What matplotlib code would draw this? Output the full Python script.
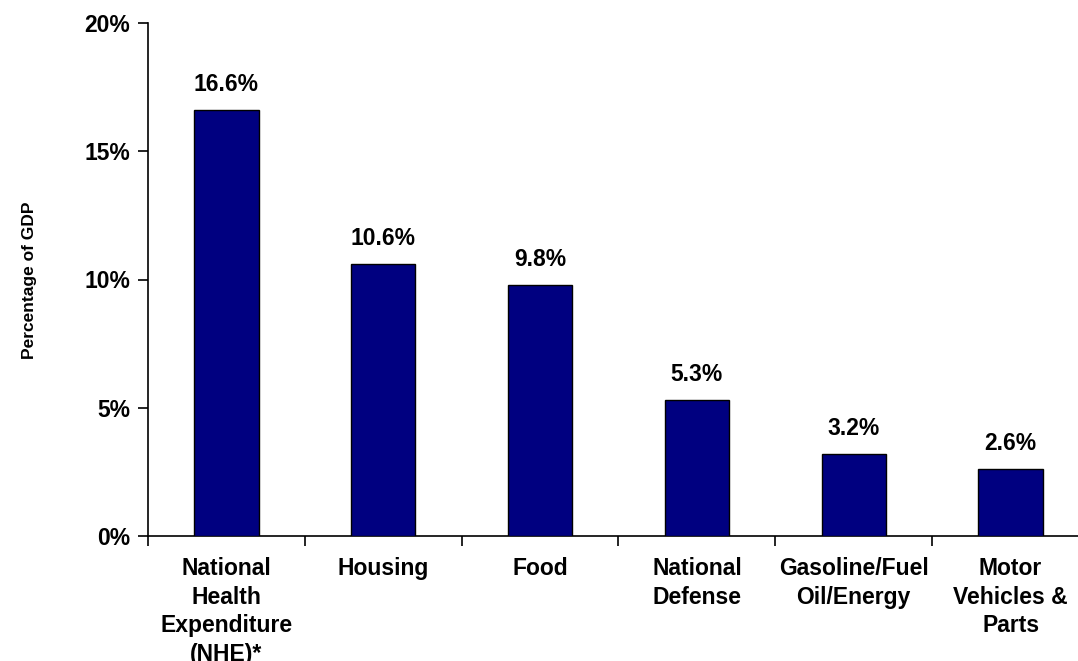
import matplotlib
matplotlib.use("Agg")
import matplotlib.pyplot as plt
import numpy as np
from matplotlib.ticker import FixedLocator

categories = ["National\nHealth\nExpenditure\n(NHE)*", "Housing", "Food",
              "National\nDefense", "Gasoline/Fuel\nOil/Energy", "Motor\nVehicles &\nParts"]
values = [16.6, 10.6, 9.8, 5.3, 3.2, 2.6]
value_labels = ["16.6%", "10.6%", "9.8%", "5.3%", "3.2%", "2.6%"]
y_ticks = [0, 5, 10, 15, 20]

plt.rcParams['font.family'] = ['Liberation Sans', 'DejaVu Sans']
plt.rcParams['font.weight'] = 'bold'

fig = plt.figure(figsize=(10.78, 6.61), dpi=100)
ax = fig.add_axes([148/1078, 125/661, (1089-148)/1078, (536-23)/661])

x = np.arange(len(categories))
ax.bar(x, values, width=0.41, color='#000080', edgecolor='black', linewidth=1.0, zorder=3)

for xi, v, lab in zip(x, values, value_labels):
    ax.annotate(lab, (xi, v), xytext=(0, 10), textcoords='offset points',
                ha='center', va='bottom', fontsize=16.5, fontweight='bold')

ax.set_xlim(-0.5, len(categories) - 0.5)
ax.set_ylim(0, 20)
ax.set_yticks(y_ticks)
ax.set_yticklabels([f"{t}%" for t in y_ticks], fontsize=16.5, fontweight='bold')
ax.tick_params(axis='y', direction='out', length=7, width=1.2, pad=6)

ax.set_xticks(x)
ax.set_xticklabels(categories, fontsize=16.5, fontweight='bold', linespacing=1.32, va='top')
ax.tick_params(axis='x', which='major', length=0, pad=15)
ax.xaxis.set_minor_locator(FixedLocator(np.arange(-0.5, len(categories), 1.0)))
ax.tick_params(axis='x', which='minor', direction='out', length=7, width=1.2)

for s in ['top', 'right']:
    ax.spines[s].set_visible(False)
for s in ['left', 'bottom']:
    ax.spines[s].set_linewidth(1.2)
    ax.spines[s].set_color('black')

fig.text(30/1078, 1 - 280/661, "Percentage of GDP", rotation=90, ha='center', va='center',
         fontsize=12.5, fontweight='bold')

fig.savefig("out.png", dpi=100)
